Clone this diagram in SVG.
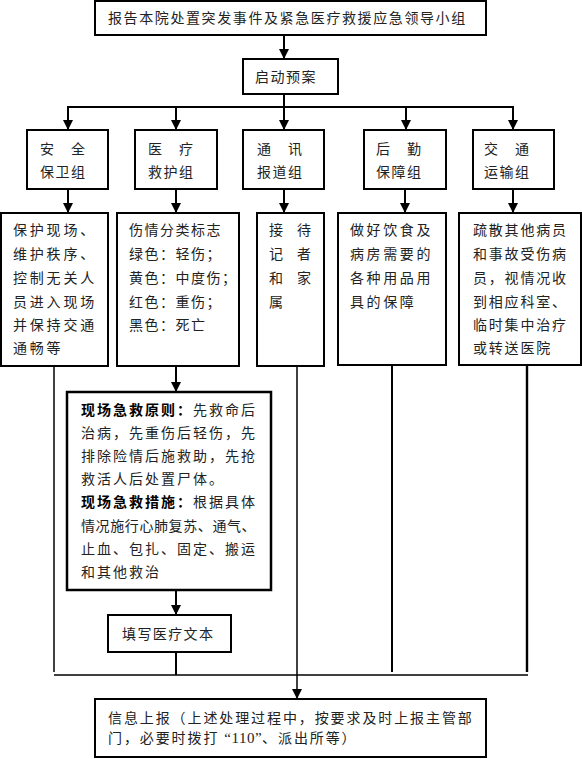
<svg xmlns="http://www.w3.org/2000/svg" width="582" height="759" viewBox="0 0 582 759">
<style>
.box{fill:#fff;stroke:#000;stroke-width:2}
.t{font-family:"Noto Sans CJK SC","Noto Sans",sans-serif;font-size:14px;fill:#222}
.ln{stroke:#000;stroke-width:2;fill:none}
.b{font-weight:bold;fill:#000}
.lat{font-family:"Liberation Serif",serif;font-size:15px}
</style>
<defs>
<marker id="ah" markerUnits="userSpaceOnUse" markerWidth="10" markerHeight="10" refX="10" refY="5" orient="auto">
<path d="M0,0 L10,5 L0,10 z" fill="#000"/>
</marker>
</defs>
<rect width="582" height="759" fill="#fff"/>

<g id="connectors">
<line class="ln" x1="284" y1="35" x2="284" y2="59" marker-end="url(#ah)"/>
<line class="ln" x1="284" y1="94" x2="284" y2="107"/>
<line class="ln" x1="67" y1="107" x2="514" y2="107"/>
<line class="ln" x1="68" y1="107" x2="68" y2="130" marker-end="url(#ah)"/>
<line class="ln" x1="176" y1="107" x2="176" y2="130" marker-end="url(#ah)"/>
<line class="ln" x1="284" y1="107" x2="284" y2="130" marker-end="url(#ah)"/>
<line class="ln" x1="406" y1="107" x2="406" y2="130" marker-end="url(#ah)"/>
<line class="ln" x1="513" y1="107" x2="513" y2="130" marker-end="url(#ah)"/>
<line class="ln" x1="68" y1="189" x2="68" y2="213" marker-end="url(#ah)"/>
<line class="ln" x1="176" y1="189" x2="176" y2="213" marker-end="url(#ah)"/>
<line class="ln" x1="284" y1="189" x2="284" y2="213" marker-end="url(#ah)"/>
<line class="ln" x1="405" y1="189" x2="405" y2="213" marker-end="url(#ah)"/>
<line class="ln" x1="513" y1="189" x2="513" y2="213" marker-end="url(#ah)"/>
<line class="ln" x1="176" y1="366" x2="176" y2="392" marker-end="url(#ah)"/>
<line class="ln" x1="176" y1="590" x2="176" y2="615" marker-end="url(#ah)"/>
<line class="ln" x1="176" y1="652" x2="176" y2="675"/>
<line class="ln" x1="54" y1="366" x2="54" y2="672" style="stroke-width:1.5"/>
<line class="ln" x1="297" y1="366" x2="297" y2="675" style="stroke-width:1.5"/>
<line class="ln" x1="392" y1="365" x2="392" y2="672"/>
<line class="ln" x1="527" y1="365" x2="527" y2="672" style="stroke-width:2.4"/>
<line class="ln" x1="54" y1="675" x2="528" y2="675" style="stroke-width:1.6"/>
<line class="ln" x1="297" y1="675" x2="297" y2="699" marker-end="url(#ah)" style="stroke-width:1.5"/>
</g>

<g id="leader">
<rect class="box" x="95" y="1" width="391" height="34"/>
<text class="t" x="108" y="23" letter-spacing="1.6">报告本院处置突发事件及紧急医疗救援应急领导小组</text>
</g>
<g id="start">
<rect class="box" x="243" y="59" width="95" height="35"/>
<text class="t" x="255" y="82" letter-spacing="1.5">启动预案</text>
</g>

<g id="g-security">
<rect class="box" x="27" y="130" width="81" height="59"/>
<text class="t" x="40" y="154" letter-spacing="1.5">安　全</text>
<text class="t" x="40" y="177" letter-spacing="1.5">保卫组</text>
</g>
<g id="g-medical">
<rect class="box" x="135" y="130" width="82" height="59"/>
<text class="t" x="148" y="154" letter-spacing="1.5">医　疗</text>
<text class="t" x="148" y="177" letter-spacing="1.5">救护组</text>
</g>
<g id="g-comm">
<rect class="box" x="243" y="130" width="81" height="59"/>
<text class="t" x="257" y="154" letter-spacing="1.5">通　讯</text>
<text class="t" x="257" y="177" letter-spacing="1.5">报道组</text>
</g>
<g id="g-logistics">
<rect class="box" x="364" y="130" width="82" height="59"/>
<text class="t" x="376" y="154" letter-spacing="1.5">后　勤</text>
<text class="t" x="376" y="177" letter-spacing="1.5">保障组</text>
</g>
<g id="g-transport">
<rect class="box" x="473" y="130" width="81" height="59"/>
<text class="t" x="484" y="154" letter-spacing="1.5">交　通</text>
<text class="t" x="484" y="177" letter-spacing="1.5">运输组</text>
</g>

<g id="d-security">
<rect class="box" x="1" y="213" width="107" height="153"/>
<g class="t" letter-spacing="2.8">
<text x="13" y="235">保护现场、</text>
<text x="13" y="259">维护秩序、</text>
<text x="13" y="283">控制无关人</text>
<text x="13" y="307">员进入现场</text>
<text x="13" y="330">并保持交通</text>
<text x="13" y="353">通畅等</text>
</g>
</g>
<g id="d-medical">
<rect class="box" x="117" y="213" width="122" height="153"/>
<g class="t" letter-spacing="1.5">
<text x="129" y="235">伤情分类标志</text>
<text x="129" y="259">绿色：轻伤；</text>
<text x="129" y="283">黄色：中度伤；</text>
<text x="129" y="307">红色：重伤；</text>
<text x="129" y="330">黑色：死亡</text>
</g>
</g>
<g id="d-comm">
<rect class="box" x="257" y="213" width="67" height="153"/>
<g class="t" letter-spacing="14">
<text x="269" y="235">接待</text>
<text x="269" y="259">记者</text>
<text x="269" y="283">和家</text>
<text x="269" y="307">属</text>
</g>
</g>
<g id="d-logistics">
<rect class="box" x="338" y="213" width="108" height="152"/>
<g class="t" letter-spacing="2.6">
<text x="350" y="235">做好饮食及</text>
<text x="350" y="259">病房需要的</text>
<text x="350" y="283">各种用品用</text>
<text x="350" y="307">具的保障</text>
</g>
</g>
<g id="d-transport">
<rect class="box" x="459" y="213" width="122" height="152"/>
<g class="t" letter-spacing="1.8">
<text x="473" y="235">疏散其他病员</text>
<text x="473" y="259">和事故受伤病</text>
<text x="473" y="283">员，视情况收</text>
<text x="473" y="307">到相应科室、</text>
<text x="473" y="330">临时集中治疗</text>
<text x="473" y="353">或转送医院</text>
</g>
</g>

<g id="principles">
<rect class="box" x="67" y="392" width="204" height="198" style="stroke-width:2.5"/>
<g class="t" letter-spacing="2">
<text x="81" y="415"><tspan class="b">现场急救原则：</tspan>先救命后</text>
<text x="81" y="438">治病，先重伤后轻伤，先</text>
<text x="81" y="461">排除险情后施救助，先抢</text>
<text x="81" y="484">救活人后处置尸体。</text>
<text x="81" y="507"><tspan class="b">现场急救措施：</tspan>根据具体</text>
<text x="81" y="531" letter-spacing="0.6">情况施行心肺复苏、通气、</text>
<text x="81" y="554">止血、包扎、固定、搬运</text>
<text x="81" y="577">和其他救治</text>
</g>
</g>

<g id="fill-record">
<rect class="box" x="108" y="615" width="123" height="37"/>
<text class="t" x="122" y="639" letter-spacing="1.4">填写医疗文本</text>
</g>

<g id="report">
<rect class="box" x="95" y="699" width="391" height="58"/>
<text class="t" x="108" y="723" letter-spacing="1.9">信息上报（上述处理过程中，按要求及时上报主管部</text>
<text class="t" x="108" y="743" letter-spacing="1.9">门，必要时拨打 <tspan class="lat" letter-spacing="0.5">“110”</tspan>、派出所等）</text>
</g>
</svg>
